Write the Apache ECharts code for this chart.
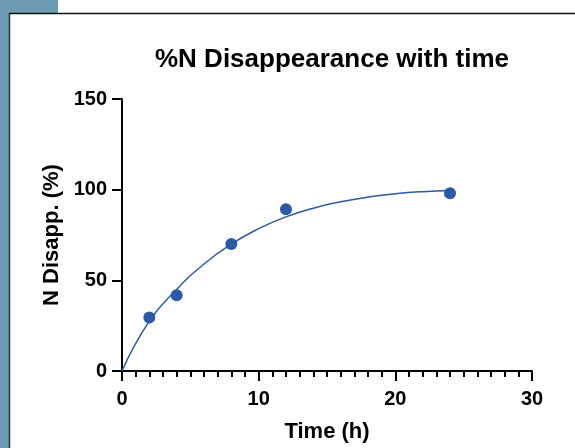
<!DOCTYPE html>
<html>
<head>
<meta charset="utf-8">
<script src="https://cdn.jsdelivr.net/npm/echarts@6/dist/echarts.min.js"></script>
<style>
  html, body { margin: 0; padding: 0; background: #fff; }
  #main { width: 575px; height: 448px; }
</style>
</head>
<body>
<div id="main"></div>
<script>
// measured points
var pointX = [2, 4, 8, 12, 24];
var pointY = [29.5, 41.8, 70.1, 89.2, 98.0];
// fitted curve
var curveX = [0, 2, 4, 6, 8, 10, 12, 14, 16, 18, 20, 22, 24];
var curveY = [0, 27.5, 45, 59, 70, 78.5, 85, 89.8, 93.3, 95.9, 97.7, 98.9, 99.6];
// axis ticks
var xTicks = [0, 10, 20, 30];
var yTicks = [0, 50, 100, 150];

var font = 'Arial, "Liberation Sans", sans-serif';
var blue = '#2c59a5';
var teal = '#6a9bb0';

var myChart = echarts.init(document.getElementById('main'), null, {renderer: 'canvas'});

var pts = pointX.map(function (x, i) { return [x, pointY[i]]; });
var curve = curveX.map(function (x, i) { return [x, curveY[i]]; });

var option = {
    backgroundColor: '#fff',
    animation: false,
    graphic: [
        {type: 'rect', shape: {x: 0, y: 0, width: 9, height: 448}, style: {fill: teal}, silent: true},
        {type: 'rect', shape: {x: 0, y: 0, width: 58, height: 13}, style: {fill: teal}, silent: true},
        {type: 'line', shape: {x1: 9.5, y1: 13, x2: 9.5, y2: 448}, style: {stroke: '#333', lineWidth: 1.5}, silent: true},
        {type: 'line', shape: {x1: 9, y1: 13.5, x2: 575, y2: 13.5}, style: {stroke: '#111', lineWidth: 1.5}, silent: true}
    ],
    title: {
        text: '%N Disappearance with time',
        left: 327,
        top: 42,
        textAlign: 'center',
        textStyle: {fontFamily: font, fontSize: 26, fontWeight: 'bold', color: '#000'}
    },
    grid: {left: 122, right: 43, top: 99, bottom: 75, containLabel: false},
    xAxis: {
        type: 'value',
        min: xTicks[0],
        max: xTicks[xTicks.length - 1],
        interval: 10,
        name: 'Time (h)',
        nameLocation: 'middle',
        nameGap: 50,
        nameTextStyle: {fontFamily: font, fontSize: 22, fontWeight: 'bold', color: '#000'},
        axisLine: {show: true, lineStyle: {color: '#000', width: 2}},
        axisTick: {show: true, length: 10, lineStyle: {color: '#000', width: 2}},
        minorTick: {show: true, splitNumber: 10, length: 6, lineStyle: {color: '#000', width: 2}},
        axisLabel: {margin: 18, fontFamily: font, fontSize: 20, fontWeight: 'bold', color: '#000'},
        splitLine: {show: false}
    },
    yAxis: {
        type: 'value',
        min: yTicks[0],
        max: yTicks[yTicks.length - 1],
        interval: 50,
        name: 'N Disapp. (%)',
        nameLocation: 'middle',
        nameGap: 58,
        nameTextStyle: {fontFamily: font, fontSize: 22, fontWeight: 'bold', color: '#000'},
        axisLine: {show: true, lineStyle: {color: '#000', width: 2}},
        axisTick: {show: true, length: 10, lineStyle: {color: '#000', width: 2}},
        axisLabel: {margin: 15, fontFamily: font, fontSize: 20, fontWeight: 'bold', color: '#000'},
        splitLine: {show: false}
    },
    series: [
        {
            name: 'fit',
            type: 'line',
            data: curve,
            smooth: 0.5,
            showSymbol: false,
            lineStyle: {color: blue, width: 1.5},
            z: 2
        },
        {
            name: 'data',
            type: 'scatter',
            data: pts,
            symbol: 'circle',
            symbolSize: 12,
            itemStyle: {color: blue, opacity: 1},
            z: 3
        }
    ]
};

myChart.setOption(option);
</script>
</body>
</html>
